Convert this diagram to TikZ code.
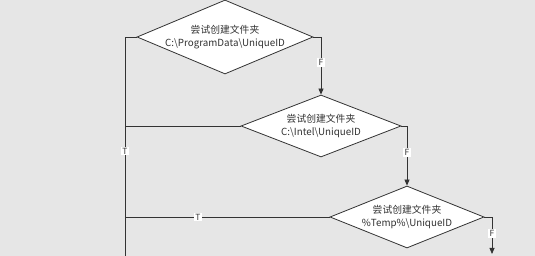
\documentclass[tikz,border=0pt]{standalone}
\usepackage{fontspec}
\setmainfont{Noto Sans CJK SC}
\usetikzlibrary{arrows.meta,shapes.geometric}
\definecolor{bgcol}{HTML}{E6E6E6}
\definecolor{linecol}{HTML}{333333}
\tikzset{
      choice/.style={
        diamond,
        draw=linecol,
        line width=0.8pt,
        fill=white,
        inner sep=0pt
      },
      choicetext/.style={
        align=center,
        inner sep=0pt,
        font=\fontsize{9.8}{13}\selectfont,
        text=linecol
      },
      flow/.style={
        draw=linecol,
        line width=0.8pt
      },
      tf/.style={
        fill=white,
        inner sep=1.2pt,
        font=\fontsize{8.5}{9}\selectfont,
        text=linecol
      }
    }

\begin{document}
\begin{tikzpicture}[x=1pt,y=-1pt]
    \fill[bgcol] (0,0) rectangle (535,256);
    \useasboundingbox (0,0) rectangle (535,256);
    \node[choice, minimum width=176pt, minimum height=74pt] (d1) at (225,37) {};
    \node[choicetext] (t1) at (d1) {尝试创建文件夹\\C:\textbackslash ProgramData\textbackslash UniqueID};
    \node[choice, minimum width=160pt, minimum height=62pt] (d2) at (321,126) {};
    \node[choicetext] (t2) at (d2) {尝试创建文件夹\\C:\textbackslash Intel\textbackslash UniqueID};
    \node[choice, minimum width=154pt, minimum height=62pt] (d3) at (407,217) {};
    \node[choicetext] (t3) at (d3) {尝试创建文件夹\\\%Temp\%\textbackslash UniqueID};
    \coordinate (bot) at (125,258);
    \coordinate (out) at (492,254);
    \draw[flow] (d1.west) -| node[tf, pos=0.758] {T} (bot);
    \draw[flow] (d2.west) -- (d2.west -| bot);
    \draw[flow] (d3.west) -- node[tf, pos=0.644] {T} (d3.west -| bot);
    \draw[flow, -{Triangle[length=6pt,width=5pt]}] (d1.east) -| node[tf, pos=0.72] {F} (d2.north);
    \draw[flow, -{Triangle[length=6pt,width=5pt]}] (d2.east) -| node[tf, pos=0.72] {F} (d3.north);
    \draw[flow, -{Triangle[length=6pt,width=5pt]}] (d3.east) -| node[tf, pos=0.72] {F} (out);
    \end{tikzpicture}
\end{document}
